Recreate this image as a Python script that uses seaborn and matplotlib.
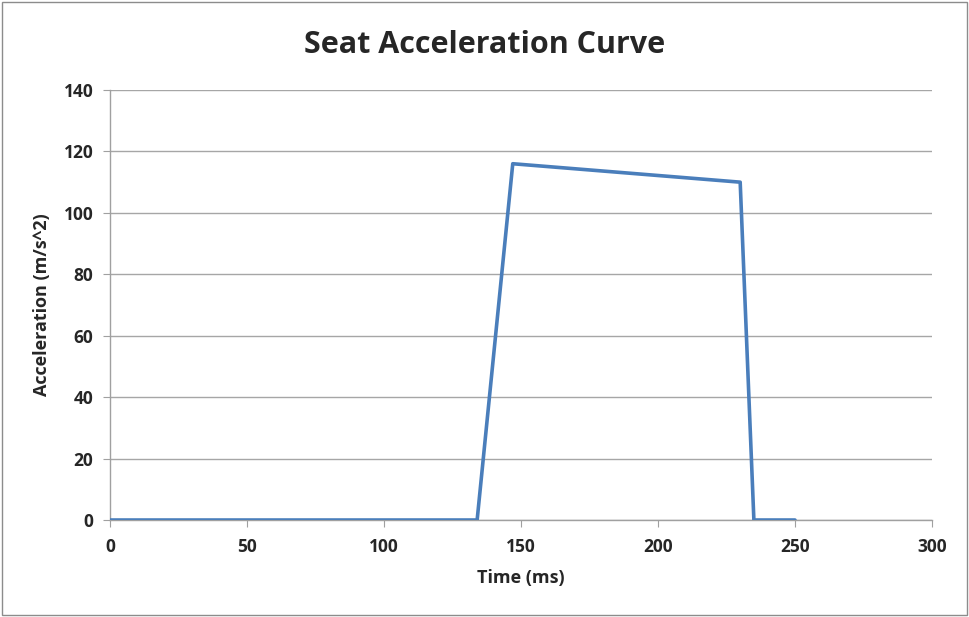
import matplotlib
matplotlib.use("Agg")
import matplotlib.pyplot as plt
import seaborn as sns
import pandas as pd
from matplotlib.patches import Rectangle

# Seat acceleration pulse (time in ms, acceleration in m/s^2)
time_ms = [0, 134, 147, 230, 235, 250]
accel = [0, 0, 116, 110, 0, 0]
x_ticks = [0, 50, 100, 150, 200, 250, 300]
y_ticks = [0, 20, 40, 60, 80, 100, 120, 140]

df = pd.DataFrame({"Time (ms)": time_ms, "Acceleration (m/s^2)": accel})

sns.set_style("white")
plt.rcParams["font.family"] = ["Open Sans", "DejaVu Sans"]

fig = plt.figure(figsize=(9.69, 6.17), dpi=100)
ax = fig.add_axes([0.1135, 0.1572, 0.8483, 0.6969])

sns.lineplot(data=df, x="Time (ms)", y="Acceleration (m/s^2)", ax=ax,
             color="#4A7EBB", linewidth=2.6, sort=False, zorder=3)

ax.set_xlim(0, 300)
ax.set_ylim(0, 140)
ax.set_xticks(x_ticks)
ax.set_yticks(y_ticks)
ax.set_xticklabels([str(v) for v in x_ticks], fontsize=12.5, fontweight="bold")
ax.set_yticklabels([str(v) for v in y_ticks], fontsize=12.5, fontweight="bold")

ax.yaxis.grid(True, color="#A6A6A6", linewidth=1.0)
ax.xaxis.grid(False)
for side in ["top", "right"]:
    ax.spines[side].set_visible(False)
for side in ["left", "bottom"]:
    ax.spines[side].set_color("#A0A0A0")
    ax.spines[side].set_linewidth(1.0)

ax.tick_params(axis="x", direction="out", length=5, color="#A0A0A0", pad=8, bottom=True)
ax.tick_params(axis="y", direction="out", length=5, color="#A0A0A0", pad=7, left=True)

ax.set_xlabel("Time (ms)", fontsize=13, fontweight="bold", labelpad=9)
ax.set_ylabel("Acceleration (m/s^2)", fontsize=13, fontweight="bold", labelpad=9)

fig.text(0.5, 0.927, "Seat Acceleration Curve", fontsize=22, fontweight="bold",
         ha="center", va="center")

fig.patches.append(Rectangle((0.002, 0.003), 0.996, 0.994, transform=fig.transFigure,
                             fill=False, edgecolor="#8C8C8C", linewidth=1.0))

fig.savefig("out.png", dpi=100)
